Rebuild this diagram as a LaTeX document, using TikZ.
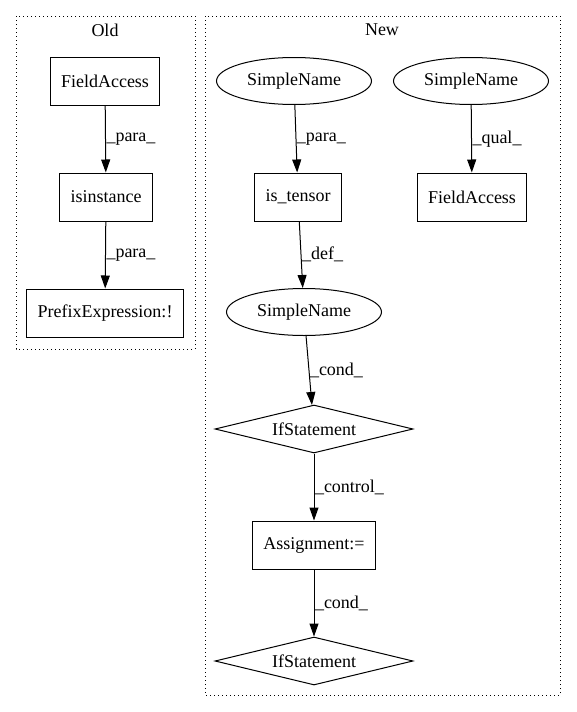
\documentclass[tikz,border=0pt]{standalone}
\usepackage{fontspec}
\setmainfont{Liberation Serif}
\usepackage{tikz}
\usetikzlibrary{arrows.meta}
\usetikzlibrary{shapes.geometric}

\begin{document}
\begin{tikzpicture}[
  x=1pt, y=-1pt,
  line width=1pt,
  font=\fontsize{18}{21}\selectfont
]
\tikzset{
    boxnode/.style = {rectangle, draw=black, align=center, minimum height=48pt, inner xsep=11pt},
    ovalnode/.style = {ellipse, draw=black, minimum width=155pt, minimum height=47pt, inner sep=0pt},
    condnode/.style = {diamond, draw=black, aspect=4, minimum width=198pt, minimum height=48pt, inner sep=1pt},
    edgelabel/.style = {midway, right, draw=none, inner sep=0.5pt},
    arr/.style = {-{Triangle[length=13pt,width=9pt]}},
    cluster/.style = {draw=black, dash pattern=on 1pt off 3pt}
}
\useasboundingbox (0,0) rectangle (576,712);
% clusters
\draw[cluster] (16,16) rectangle (195,349);
\node (OldLbl) at (105,30) {Old};
\draw[cluster] (205,16) rectangle (560,695);
\node (NewLbl) at (382,30) {New};
% old
\node[boxnode] (FA) at (105,81) {FieldAccess};
\node[boxnode] (ISI) at (106,197) {isinstance};
\node[boxnode] (PE) at (105,313) {PrefixExpression:!};
% new
\node[ovalnode] (SN1) at (294,81) {SimpleName};
\node[ovalnode] (SN2) at (471,81) {SimpleName};
\node[boxnode] (IT) at (298,197) {is\_tensor};
\node[boxnode] (FA2) at (472,197) {FieldAccess};
\node[ovalnode] (SN3) at (304,312) {SimpleName};
\node[condnode] (IF1) at (314,429) {IfStatement};
\node[boxnode] (AS) at (314,545) {Assignment:=};
\node[condnode] (IF2) at (314,661) {IfStatement};
% edges
\draw[arr] (FA) -- node[edgelabel] {\_para\_} (ISI);
\draw[arr] (ISI) -- node[edgelabel] {\_para\_} (PE);
\draw[arr] (SN1) -- node[edgelabel] {\_para\_} (IT);
\draw[arr] (SN2) -- node[edgelabel] {\_qual\_} (FA2);
\draw[arr] (IT) -- node[edgelabel] {\_def\_} (SN3);
\draw[arr] (SN3) -- node[edgelabel] {\_cond\_} (IF1);
\draw[arr] (IF1) -- node[edgelabel] {\_control\_} (AS);
\draw[arr] (AS) -- node[edgelabel] {\_cond\_} (IF2);
\end{tikzpicture}
\end{document}
